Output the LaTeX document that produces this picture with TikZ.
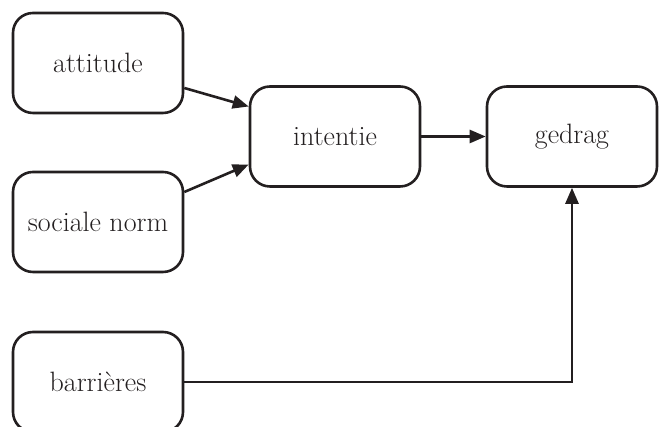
\documentclass[tikz,border=0pt]{standalone}
\usepackage{fontspec}
\setmainfont{Latin Modern Roman}
\usetikzlibrary{arrows.meta}
\definecolor{ink}{HTML}{231F20}
\begin{document}
\begin{tikzpicture}[x=1pt,y=1pt,
  box/.style={draw=ink, line width=2.6pt, rounded corners=20pt,
    minimum width=170pt, minimum height=100pt, inner sep=0pt,
    font=\fontsize{28}{34}\selectfont, text=ink},
  link/.style={draw=ink, line width=2.6pt,
    -{Triangle[length=16pt,width=13pt]}}]
  \useasboundingbox (0,0) rectangle (662,427);
  \node[box] (att) at (98,364) {attitude};
  \node[box] (soc) at (98,205) {sociale norm};
  \node[box] (bar) at (98,45) {barrières};
  \node[box] (int) at (335,290.5) {intentie};
  \node[box] (ged) at (572,290.5) {gedrag};
  \draw[link] ([yshift=-25pt]att.east) -- ([yshift=30pt]int.west);
  \draw[link] ([yshift=30pt]soc.east) -- ([yshift=-28pt]int.west);
  \draw[link] (int.east) -- (ged.west);
  \draw[link] (bar.east) -| (ged.south);
\end{tikzpicture}
\end{document}
